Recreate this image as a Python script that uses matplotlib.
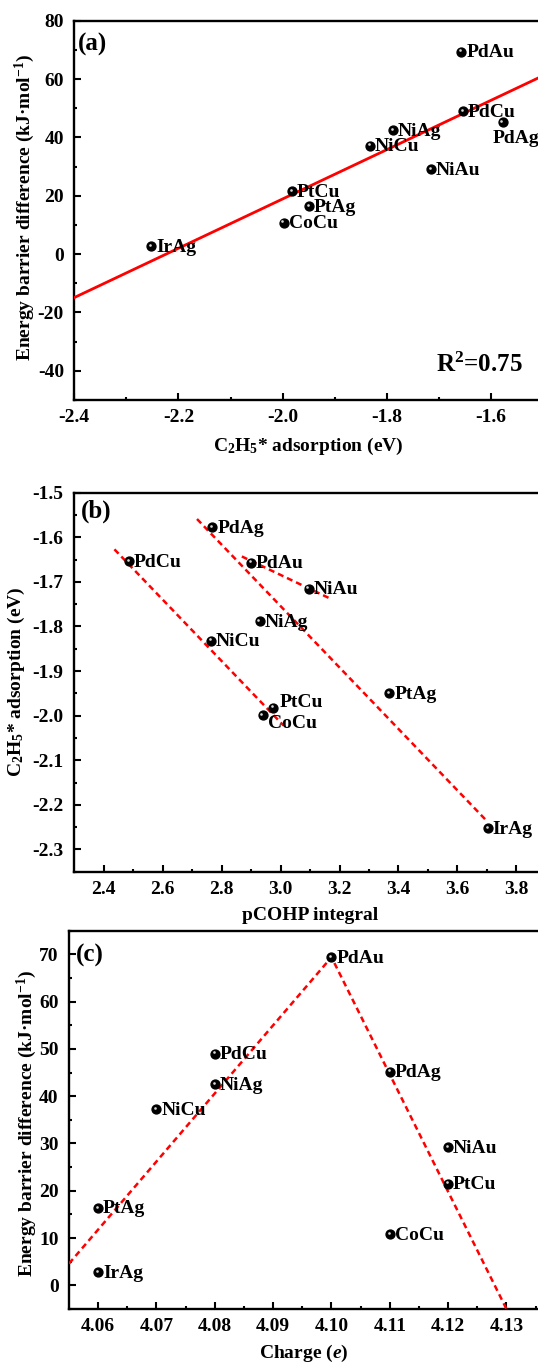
import numpy as np
import matplotlib
matplotlib.use('Agg')
import matplotlib.pyplot as plt
from matplotlib.ticker import MultipleLocator, FormatStrFormatter
from matplotlib.transforms import offset_copy

plt.rcParams['font.family'] = 'Liberation Serif'
plt.rcParams['font.weight'] = 'bold'
plt.rcParams['axes.labelweight'] = 'bold'
plt.rcParams['mathtext.fontset'] = 'custom'
plt.rcParams['mathtext.rm'] = 'Liberation Serif:bold'
plt.rcParams['mathtext.bf'] = 'Liberation Serif:bold'
plt.rcParams['mathtext.it'] = 'Liberation Serif:italic:bold'
plt.rcParams['axes.unicode_minus'] = False

# data
names = ['PdAu', 'PdCu', 'PdAg', 'NiAg', 'NiCu', 'NiAu', 'PtCu', 'PtAg', 'CoCu', 'IrAg']
energy = [69.4, 49.0, 45.2, 42.5, 37.2, 29.2, 21.5, 16.4, 10.8, 2.8]       # kJ/mol
ads = [-1.657, -1.654, -1.578, -1.788, -1.832, -1.715, -1.982, -1.949, -1.998, -2.252]  # eV
pcohp = [2.900, 2.486, 2.769, 2.929, 2.765, 3.095, 2.976, 3.369, 2.939, 3.703]
charge = [4.10, 4.08, 4.11, 4.08, 4.07, 4.12, 4.12, 4.06, 4.11, 4.06]

# guide lines drawn by hand in (b) and (c)
guide_b = [([2.437, 3.010], [-1.627, -2.022]),
           ([2.717, 3.699], [-1.559, -2.236]),
           ([2.869, 3.167], [-1.643, -1.737])]
guide_c_x = [4.055, 4.100, 4.130]
guide_c_y = [4.6, 69.4, -5.0]

FS = 14
RED = '#ff0000'

fig = plt.figure(figsize=(5.38, 13.64), dpi=100)
ax1 = fig.add_axes([0.1381, 0.70674, 1.1065 - 0.1381, 0.98482 - 0.70674])
ax2 = fig.add_axes([0.13755, 0.36092, 1.0697 - 0.13755, 0.63878 - 0.36092])
ax3 = fig.add_axes([0.12825, 0.04032, 1.0498 - 0.12825, 0.31767 - 0.04032])


def style(ax):
    for s in ax.spines.values():
        s.set_linewidth(1.7)
    ax.tick_params(which='both', direction='in', width=1.5, labelsize=FS,
                   top=False, right=False)
    ax.tick_params(which='major', length=5)
    ax.tick_params(which='minor', length=2.5)
    ax.tick_params(axis='x', pad=6.5)
    ax.tick_params(axis='y', pad=7.5)


def balls(ax, x, y):
    ax.plot(x, y, 'o', ms=6.4, mfc='black', mec='black', zorder=5)
    tr = offset_copy(ax.transData, fig=fig, x=-0.9, y=0.9, units='points')
    ax.plot(x, y, 'o', ms=1.9, mfc='#d8d8d8', mec='none', transform=tr, zorder=6)


def labels(ax, x, y, special):
    for n, xi, yi in zip(names, x, y):
        dx, dy = special.get(n, (3.5, -0.8))
        ax.annotate(n, (xi, yi), xytext=(dx, dy), textcoords='offset points',
                    ha='left', va='center', fontsize=FS, fontweight='bold', zorder=7)


# (a)
style(ax1)
ax1.set_xlim(-2.4, -1.4)
ax1.set_ylim(-50, 80)
ax1.set_xticks(np.arange(-2.4, -1.55, 0.2))
ax1.set_xticks(np.arange(-2.3, -1.45, 0.2), minor=True)
ax1.yaxis.set_major_locator(MultipleLocator(20))
ax1.yaxis.set_minor_locator(MultipleLocator(10))
ax1.xaxis.set_major_formatter(FormatStrFormatter('%.1f'))
k, b = np.polyfit(ads, energy, 1)
xs = np.array(ax1.get_xlim())
ax1.plot(xs, k * xs + b, color=RED, lw=2.0, zorder=3)
balls(ax1, ads, energy)
labels(ax1, ads, energy, {'PdAg': (-7, -11.5)})
ax1.text(0.0077, 0.9386, '(a)', transform=ax1.transAxes, fontsize=18,
         fontweight='bold', ha='left', va='center')
ax1.text(0.694, 0.0746, 'R$^2$=0.75', transform=ax1.transAxes, fontsize=18,
         fontweight='bold', ha='left', va='baseline')
ax1.set_xlabel('C$_2$H$_5$* adsorption (eV)', fontsize=FS)
ax1.set_ylabel('Energy barrier difference (kJ·mol$^{-1}$)', fontsize=FS)
ax1.xaxis.set_label_coords(0.450, -0.1231)
ax1.xaxis.label.set_va('center')
ax1.yaxis.set_label_coords(-0.0946, 0.507)
ax1.yaxis.label.set_va('center')

# (b)
style(ax2)
ax2.set_xlim(2.3, 4.0)
ax2.set_ylim(-2.35, -1.5)
ax2.set_xticks(np.arange(2.4, 3.85, 0.2))
ax2.set_xticks(np.arange(2.5, 3.95, 0.2), minor=True)
ax2.yaxis.set_major_locator(MultipleLocator(0.1))
ax2.yaxis.set_minor_locator(MultipleLocator(0.05))
ax2.xaxis.set_major_formatter(FormatStrFormatter('%.1f'))
ax2.yaxis.set_major_formatter(FormatStrFormatter('%.1f'))
for gx, gy in guide_b:
    ax2.plot(gx, gy, color=RED, lw=1.8, ls=(0, (2.4, 1.6)), zorder=3)
balls(ax2, pcohp, ads)
labels(ax2, pcohp, ads, {'PtCu': (4.5, 4), 'CoCu': (4, -6.5)})
ax2.text(0.014, 0.950, '(b)', transform=ax2.transAxes, fontsize=18,
         fontweight='bold', ha='left', va='center')
ax2.set_xlabel('pCOHP integral', fontsize=FS)
ax2.set_ylabel('C$_2$H$_5$* adsorption (eV)', fontsize=FS)
ax2.xaxis.set_label_coords(0.470, -0.1143)
ax2.xaxis.label.set_va('center')
ax2.yaxis.set_label_coords(-0.114, 0.5)
ax2.yaxis.label.set_va('center')

# (c)
style(ax3)
ax3.set_xlim(4.055, 4.14)
ax3.set_ylim(-5, 75)
ax3.set_xticks(np.arange(4.06, 4.1305, 0.01))
ax3.set_xticks(np.arange(4.065, 4.1355, 0.01), minor=True)
ax3.yaxis.set_major_locator(MultipleLocator(10))
ax3.yaxis.set_minor_locator(MultipleLocator(5))
ax3.xaxis.set_major_formatter(FormatStrFormatter('%.2f'))
ax3.plot(guide_c_x, guide_c_y, color=RED, lw=1.8, ls=(0, (2.4, 1.6)), zorder=3)
balls(ax3, charge, energy)
labels(ax3, charge, energy, {})
ax3.text(0.014, 0.934, '(c)', transform=ax3.transAxes, fontsize=18,
         fontweight='bold', ha='left', va='center')
ax3.set_xlabel('Charge ($\\mathit{e}$)', fontsize=FS)
ax3.set_ylabel('Energy barrier difference (kJ·mol$^{-1}$)', fontsize=FS)
ax3.xaxis.set_label_coords(0.473, -0.1171)
ax3.xaxis.label.set_va('center')
ax3.yaxis.set_label_coords(-0.0853, 0.49)
ax3.yaxis.label.set_va('center')

fig.savefig('out.png', dpi=100)
